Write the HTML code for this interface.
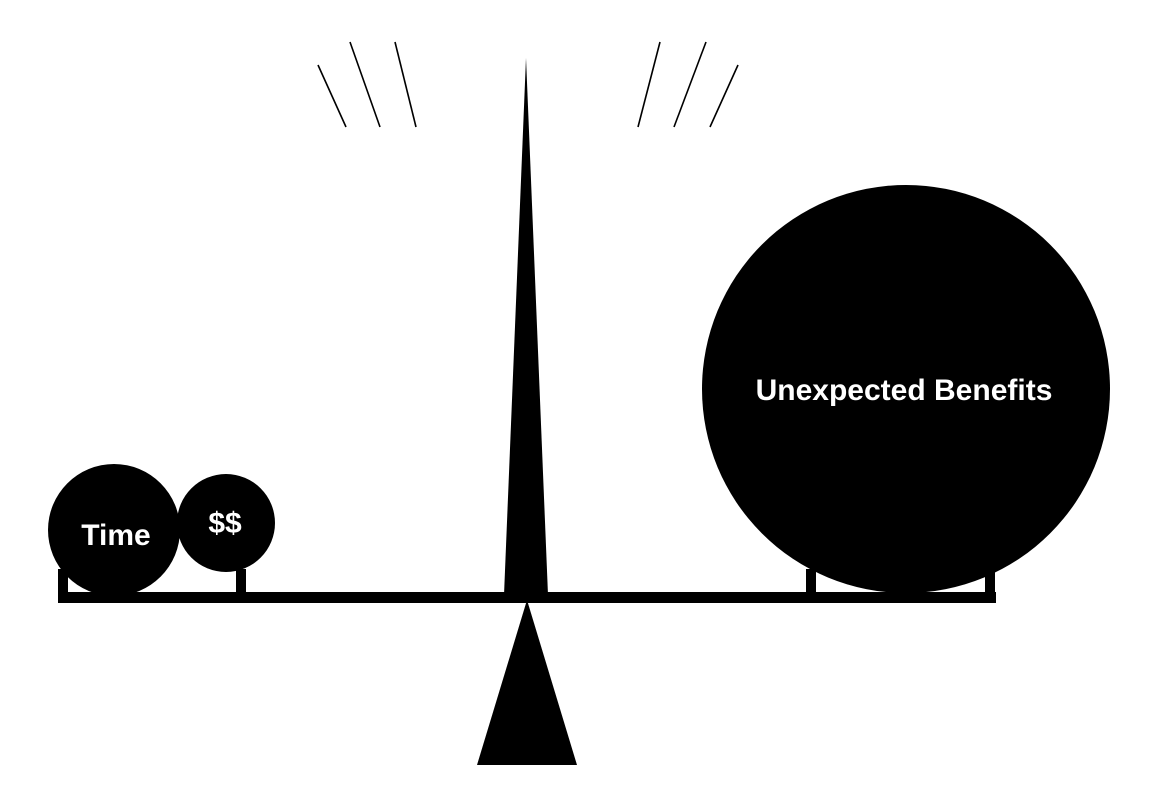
<!DOCTYPE html>
<html><head><meta charset="utf-8"><style>html,body{margin:0;padding:0;background:#fff}svg{display:block}</style></head>
<body>
<svg width="1153" height="789" viewBox="0 0 1153 789" xmlns="http://www.w3.org/2000/svg">
<g stroke="#000" stroke-width="1.6">
<line x1="318" y1="65" x2="346" y2="127"/><line x1="350" y1="42" x2="380" y2="127"/><line x1="395" y1="42" x2="416" y2="127"/>
</g>
<g stroke="#000" stroke-width="1.6">
<line x1="638" y1="127" x2="660" y2="42"/><line x1="674" y1="127" x2="706" y2="42"/><line x1="710" y1="127" x2="738" y2="65"/>
</g>
<polygon points="526,58 504,595 548,595" fill="#000"/>
<polygon points="527,600 477,765 577,765" fill="#000"/>
<rect x="58" y="592" width="938" height="11" fill="#000"/>
<rect x="58" y="569" width="10" height="30" fill="#000"/>
<rect x="236" y="569" width="10" height="30" fill="#000"/>
<rect x="806" y="569" width="10" height="30" fill="#000"/>
<rect x="985" y="569" width="10" height="30" fill="#000"/>
<circle cx="114" cy="530" r="66" fill="#000"/>
<circle cx="226" cy="523" r="49" fill="#000"/>
<circle cx="906" cy="389" r="204" fill="#000"/>
<g font-family="Liberation Sans, sans-serif" font-weight="bold" fill="#fff" text-anchor="middle">
<text x="116" y="545" font-size="30">Time</text>
<text x="225" y="533" font-size="30">$$</text>
<text x="904" y="400" font-size="30">Unexpected Benefits</text>
</g>
</svg>
</body></html>
